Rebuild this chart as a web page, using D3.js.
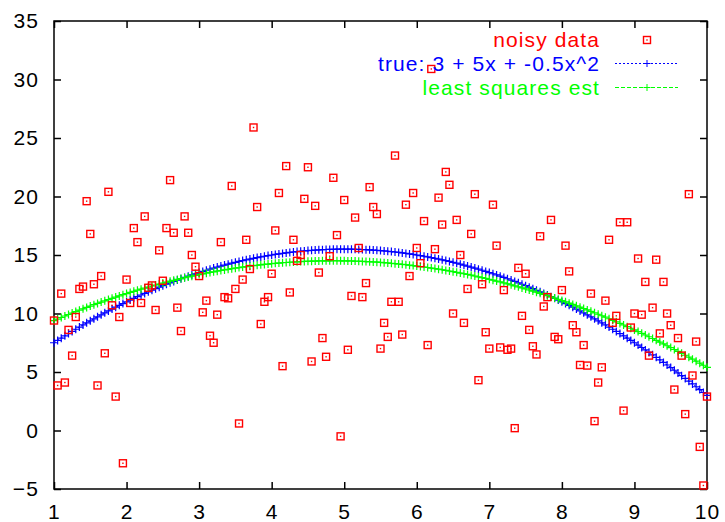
<!DOCTYPE html>
<html>
<head>
<meta charset="utf-8">
<script src="https://cdn.jsdelivr.net/npm/d3@7"></script>
<style>
  body { margin: 0; background: #fff; }
  text { font-family: "Liberation Sans", Arial, sans-serif; font-size: 21px; letter-spacing: 1.1px; }
</style>
</head>
<body>
<div id="wrapper"></div>
<script>
// sample positions of the noisy data (step 0.05)
const noisyX = [
  1.00, 1.05, 1.10, 1.15, 1.20, 1.25, 1.30, 1.35, 1.40, 1.45,
  1.50, 1.55, 1.60, 1.65, 1.70, 1.75, 1.80, 1.85, 1.90, 1.95,
  2.00, 2.05, 2.10, 2.15, 2.20, 2.25, 2.30, 2.35, 2.40, 2.45,
  2.50, 2.55, 2.60, 2.65, 2.70, 2.75, 2.80, 2.85, 2.90, 2.95,
  3.00, 3.05, 3.10, 3.15, 3.20, 3.25, 3.30, 3.35, 3.40, 3.45,
  3.50, 3.55, 3.60, 3.65, 3.70, 3.75, 3.80, 3.85, 3.90, 3.95,
  4.00, 4.05, 4.10, 4.15, 4.20, 4.25, 4.30, 4.35, 4.40, 4.45,
  4.50, 4.55, 4.60, 4.65, 4.70, 4.75, 4.80, 4.85, 4.90, 4.95,
  5.00, 5.05, 5.10, 5.15, 5.20, 5.25, 5.30, 5.35, 5.40, 5.45,
  5.50, 5.55, 5.60, 5.65, 5.70, 5.75, 5.80, 5.85, 5.90, 5.95,
  6.00, 6.05, 6.10, 6.15, 6.20, 6.25, 6.30, 6.35, 6.40, 6.45,
  6.50, 6.55, 6.60, 6.65, 6.70, 6.75, 6.80, 6.85, 6.90, 6.95,
  7.00, 7.05, 7.10, 7.15, 7.20, 7.25, 7.30, 7.35, 7.40, 7.45,
  7.50, 7.55, 7.60, 7.65, 7.70, 7.75, 7.80, 7.85, 7.90, 7.95,
  8.00, 8.05, 8.10, 8.15, 8.20, 8.25, 8.30, 8.35, 8.40, 8.45,
  8.50, 8.55, 8.60, 8.65, 8.70, 8.75, 8.80, 8.85, 8.90, 8.95,
  9.00, 9.05, 9.10, 9.15, 9.20, 9.25, 9.30, 9.35, 9.40, 9.45,
  9.50, 9.55, 9.60, 9.65, 9.70, 9.75, 9.80, 9.85, 9.90, 9.95,
  10.00
]

const noisyY = [
  9.4, 3.85, 11.7, 4.1, 8.6, 6.4, 9.7, 12.1, 12.3, 19.6,
  16.8, 12.5, 3.85, 13.2, 6.6, 20.4, 10.7, 2.9, 9.7, -2.8,
  12.9, 10.9, 17.3, 16.1, 10.9, 18.3, 12.2, 12.4, 10.3, 15.4,
  12.8, 17.3, 21.4, 16.9, 10.5, 8.5, 18.3, 16.9, 15.0, 14.0,
  13.2, 10.1, 11.1, 8.1, 7.5, 9.9, 16.1, 11.4, 11.3, 20.9,
  12.1, 0.6, 12.9, 16.3, 13.8, 25.9, 19.1, 9.1, 11.0, 11.4,
  13.4, 17.1, 20.3, 5.5, 22.6, 11.8, 16.3, 14.5, 15.0, 19.8,
  22.5, 5.9, 19.2, 13.5, 7.9, 6.3, 14.9, 21.6, 16.7, -0.5,
  19.7, 6.9, 11.5, 18.2, 15.6, 11.4, 12.6, 20.8, 19.1, 18.5,
  7.0, 9.2, 8.0, 11.0, 23.5, 11.0, 8.2, 19.3, 13.2, 20.3,
  15.6, 14.3, 17.9, 7.3, 30.9, 15.5, 19.9, 17.6, 22.1, 21.0,
  10.0, 18.0, 15.0, 9.2, 12.1, 16.8, 20.2, 4.3, 12.5, 8.4,
  7.0, 19.3, 15.8, 7.1, 12.0, 6.9, 7.0, 0.2, 13.9, 9.8,
  13.4, 8.6, 7.2, 6.5, 16.6, 10.6, 11.4, 18.0, 8.0, 7.8,
  12.0, 15.8, 13.6, 9.0, 8.4, 5.6, 7.3, 5.55, 11.7, 0.8,
  4.1, 5.4, 11.1, 16.3, 9.2, 9.8, 17.8, 1.7, 17.8, 8.8,
  10.0, 14.7, 9.9, 12.7, 6.4, 10.5, 14.6, 8.3, 12.7, 10.0,
  9.0, 3.5, 7.9, 6.4, 1.4, 20.2, 4.7, 7.6, -1.4, -4.7,
  2.9
]

// quadratic coefficients [c0, c1, c2]
const trueCoef = [3, 5, -0.5]          // from the legend
const lsqCoef = [6.4, 3.34, -0.344]

const seriesLabels = ["noisy data", "true: 3 + 5x + -0.5x^2", "least squares est"]
const xTicks = [1, 2, 3, 4, 5, 6, 7, 8, 9, 10]
const yTicks = [-5, 0, 5, 10, 15, 20, 25, 30, 35]

function drawChart() {
  const quad = c => x => c[0] + c[1] * x + c[2] * x * x
  const noisy = noisyX.map((x, i) => [x, noisyY[i]])
  const trueCurve = noisyX.map(x => [x, quad(trueCoef)(x)])
  const lsqCurve = noisyX.map(x => [x, quad(lsqCoef)(x)])

  let dimensions = {
    width: 725,
    height: 522,
    margin: { top: 21, right: 18, bottom: 33, left: 54 },
  }
  dimensions.boundedWidth = dimensions.width - dimensions.margin.left - dimensions.margin.right
  dimensions.boundedHeight = dimensions.height - dimensions.margin.top - dimensions.margin.bottom

  const wrapper = d3.select("#wrapper")
    .append("svg")
      .attr("width", dimensions.width)
      .attr("height", dimensions.height)

  const bounds = wrapper.append("g")
      .attr("transform", `translate(${dimensions.margin.left},${dimensions.margin.top})`)

  const xScale = d3.scaleLinear()
    .domain([1, 10])
    .range([0, dimensions.boundedWidth])

  const yScale = d3.scaleLinear()
    .domain([-5, 35])
    .range([dimensions.boundedHeight, 0])

  // axes: inward ticks on all four sides
  const styleAxis = g => {
    g.select(".domain").remove()
    g.selectAll(".tick line").attr("stroke", "#000").attr("stroke-width", 1.5)
  }

  bounds.append("g")
    .call(d3.axisLeft(yScale).tickValues(yTicks).tickSize(-7).tickPadding(15))
    .call(styleAxis)

  bounds.append("g")
    .attr("transform", `translate(0,${dimensions.boundedHeight})`)
    .call(d3.axisBottom(xScale).tickValues(xTicks).tickSize(-7).tickPadding(15))
    .call(styleAxis)

  bounds.append("g")
    .call(d3.axisTop(xScale).tickValues(xTicks).tickSize(-7).tickFormat(""))
    .call(styleAxis)

  bounds.append("g")
    .attr("transform", `translate(${dimensions.boundedWidth},0)`)
    .call(d3.axisRight(yScale).tickValues(yTicks).tickSize(-7).tickFormat(""))
    .call(styleAxis)

  bounds.append("rect")
      .attr("width", dimensions.boundedWidth)
      .attr("height", dimensions.boundedHeight)
      .attr("fill", "none")
      .attr("stroke", "#000")
      .attr("stroke-width", 1.5)

  // curves with + markers
  const lineGenerator = d3.line()
    .x(d => xScale(d[0]))
    .y(d => yScale(d[1]))

  const plusPath = "M-4,0H4M0,-4V4"

  const drawCurve = (data, color, dash) => {
    bounds.append("path")
        .attr("d", lineGenerator(data))
        .attr("fill", "none")
        .attr("stroke", color)
        .attr("stroke-width", 1.2)
        .attr("stroke-dasharray", dash)
    bounds.append("g").selectAll("path")
      .data(data)
      .join("path")
        .attr("d", plusPath)
        .attr("transform", d => `translate(${xScale(d[0])},${yScale(d[1])})`)
        .attr("stroke", color)
        .attr("stroke-width", 1.2)
  }
  drawCurve(trueCurve, "#0000ff", "2,2")
  drawCurve(lsqCurve, "#00ff00", "4,2")

  // noisy points: square with a centre dot
  const drawSquare = (sel) => {
    sel.append("rect")
        .attr("x", -3.5).attr("y", -3.5)
        .attr("width", 7).attr("height", 7)
        .attr("fill", "none")
        .attr("stroke", "#ff0000")
        .attr("stroke-width", 1.4)
    sel.append("rect")
        .attr("x", -0.7).attr("y", -0.7)
        .attr("width", 1.4).attr("height", 1.4)
        .attr("fill", "#ff0000")
  }

  bounds.append("g").selectAll("g")
    .data(noisy)
    .join("g")
      .attr("transform", d => `translate(${xScale(d[0])},${yScale(d[1])})`)
      .call(drawSquare)

  // legend
  const legend = wrapper.append("g")
  const colors = ["#ff0000", "#0000ff", "#00ff00"]
  seriesLabels.forEach((label, i) => {
    legend.append("text")
        .attr("x", 600)
        .attr("y", 47 + i * 24)
        .attr("text-anchor", "end")
        .attr("fill", colors[i])
        .text(label)
  })
  legend.append("g")
      .attr("transform", "translate(647,40)")
      .call(drawSquare)
  ;[["#0000ff", "2,2"], ["#00ff00", "4,2"]].forEach(([color, dash], i) => {
    const yPos = 63.5 + i * 24
    legend.append("line")
        .attr("x1", 615).attr("x2", 678)
        .attr("y1", yPos).attr("y2", yPos)
        .attr("stroke", color)
        .attr("stroke-width", 1)
        .attr("stroke-dasharray", dash)
    legend.append("path")
        .attr("d", "M-3.5,0H3.5M0,-3.5V3.5")
        .attr("transform", `translate(647,${yPos})`)
        .attr("stroke", color)
        .attr("stroke-width", 1)
  })
}

drawChart()
</script>
</body>
</html>
